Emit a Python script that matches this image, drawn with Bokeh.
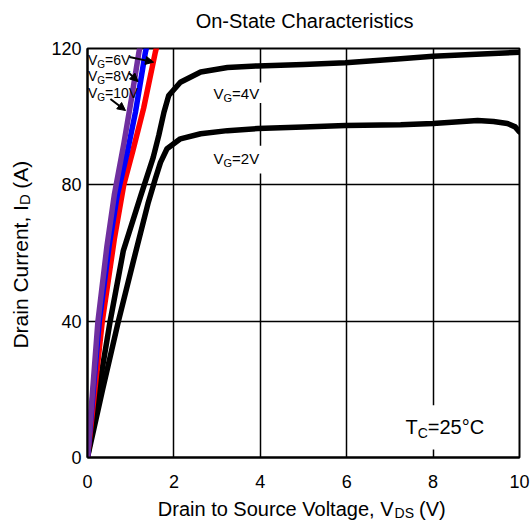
import math
from bokeh.plotting import figure
from bokeh.models import Range1d, FixedTicker, Label, Arrow, NormalHead
from bokeh.embed import file_html
from bokeh.resources import INLINE

# ---------------- data ----------------
vds_2v = [0, 0.35, 0.71, 1.05, 1.40, 1.57, 1.69, 1.84, 2.15, 2.62, 3.24, 3.94,
          5.0, 5.97, 7.25, 8.0, 8.6, 9.03, 9.4, 9.72, 9.9, 10.0]
id_2v = [0, 20, 39.7, 57, 74.5, 81.8, 86.6, 90.6, 93.5, 95.0, 95.9, 96.5,
         97.0, 97.4, 97.6, 98.0, 98.5, 98.9, 98.6, 98.0, 97.0, 95.5]

vds_4v = [0, 0.52, 0.83, 1.25, 1.52, 1.65, 1.77, 1.88, 2.15, 2.62, 3.24, 3.94,
          5.0, 5.97, 7.25, 8.0, 9.0, 10.0]
id_4v = [0, 39.7, 60.7, 77.5, 88.0, 94.5, 101.3, 106.2, 110.1, 113.1, 114.4, 114.9,
         115.3, 115.8, 117.0, 117.7, 118.3, 118.9]

vds_6v = [0, 0.34, 0.62, 0.84, 1.05, 1.30, 1.57, 1.63]
id_6v = [0, 39.7, 64.0, 80.0, 90.0, 102.5, 118.9, 122]

vds_8v = [0, 0.27, 0.50, 0.69, 0.92, 1.11, 1.34, 1.40]
id_8v = [0, 39.7, 62.0, 77.0, 89.5, 101.3, 118.9, 122]

vds_10v = [0, 0.24, 0.45, 0.62, 0.84, 1.03, 1.19, 1.24]
id_10v = [0, 39.7, 62.0, 77.0, 92.0, 106.2, 118.9, 122]

x_ticks = [0, 2, 4, 6, 8, 10]
y_ticks = [0, 40, 80, 120]
x_grid = [2, 4, 6, 8]
y_grid = [40, 80]

FONT = "Liberation Sans"
# Arial / Liberation Sans advance widths (per 1000 em)
W = {' ': 278, '\u00a0': 278, '\u2002': 500, '(': 333, ')': 333, ',': 278, '=': 584,
     '°': 400, '-': 333,
     '0': 556, '1': 556, '2': 556, '4': 556, '5': 556, '6': 556, '8': 556,
     'A': 667, 'C': 722, 'D': 722, 'G': 778, 'I': 278, 'S': 667, 'T': 611, 'V': 667,
     'a': 556, 'c': 500, 'e': 556, 'g': 556, 'i': 222, 'l': 222, 'n': 556,
     'o': 556, 'r': 333, 't': 278, 'u': 556}


def tw(s, size):
    return sum(W.get(c, 556) for c in s) / 1000.0 * size


BASE_FIX = 0.35  # rendered alphabetic baseline sits ~0.35em low; compensate

WID, H = 530, 521
p = figure(width=WID, height=H, x_range=Range1d(0, 10), y_range=Range1d(0, 120),
           output_backend="svg", toolbar_location=None,
           min_border_left=87, min_border_right=11, min_border_top=48, min_border_bottom=64)
p.background_fill_color = "white"
p.border_fill_color = "white"
p.outline_line_color = "black"
p.outline_line_width = 2

for ax in (p.xaxis, p.yaxis):
    ax.axis_line_color = "black"
    ax.axis_line_width = 2
    ax.major_tick_in = 0
    ax.major_tick_out = 0
    ax.minor_tick_in = 0
    ax.minor_tick_out = 0
    ax.major_label_text_font = FONT
    ax.major_label_text_font_size = "18px"
    ax.major_label_text_color = "black"
p.xaxis.ticker = FixedTicker(ticks=x_ticks)
p.yaxis.ticker = FixedTicker(ticks=y_ticks)
p.xaxis.major_label_standoff = 17
p.yaxis.major_label_standoff = 6

p.xgrid.ticker = FixedTicker(ticks=x_grid)
p.ygrid.ticker = FixedTicker(ticks=y_grid)
for g in (p.xgrid, p.ygrid):
    g.grid_line_color = "black"
    g.grid_line_width = 1.5
    g.grid_line_alpha = 1.0

# white backgrounds behind in-plot labels (they interrupt the grid lines)
p.quad(left=[2.85, 2.85, 7.3], right=[4.1, 4.1, 9.4],
       bottom=[104.0, 83.3, 2.35], top=[110.0, 91.5, 15.3],
       fill_color="white", line_color=None)

# curves
LW = 5.5
p.line(vds_2v, id_2v, line_width=LW, color="black", line_cap="round", line_join="round")
p.line(vds_4v, id_4v, line_width=LW, color="black", line_cap="round", line_join="round")
p.line(vds_6v, id_6v, line_width=LW, color="#FF0000", line_cap="round", line_join="round")
p.line(vds_8v, id_8v, line_width=LW, color="#0000FF", line_cap="round", line_join="round")
p.line(vds_10v, id_10v, line_width=LW, color="#702F9F", line_cap="round", line_join="round")


def rich_data(x, y, parts, size, sub_size, drop):
    off = 0.0
    for txt, sub in parts:
        fs = sub_size if sub else size
        p.add_layout(Label(x=x, y=y, x_offset=off,
                           y_offset=BASE_FIX * fs - (drop if sub else 0),
                           text=txt, text_font=FONT, text_font_size=f"{fs}px",
                           text_baseline="alphabetic", text_align="left",
                           text_color="black"))
        off += tw(txt, fs)


def canvas_label(x, y, txt, fs, side, angle=0.0):
    # canvas units (x from left, y from top); kept in a side panel so it is not clipped
    if angle == 0.0:
        y = y - BASE_FIX * fs
    else:
        x = x - BASE_FIX * fs
    p.add_layout(Label(x=x, y=y, x_units="canvas", y_units="canvas",
                       text=txt, text_font=FONT, text_font_size=f"{fs}px",
                       text_baseline="alphabetic", text_align="left",
                       angle=angle, text_color="black"), side)


# curve labels
rich_data(2.917, 105.3, [("V", False), ("G", True), ("=4V", False)], 15, 11, 3)
rich_data(2.917, 86.3, [("V", False), ("G", True), ("=2V", False)], 15, 11, 3)
rich_data(0.01, 115.3, [("V", False), ("G", True), ("=6V", False)], 14, 10, 3)
rich_data(0.01, 110.6, [("V", False), ("G", True), ("=8V", False)], 14, 10, 3)
rich_data(0.01, 105.6, [("V", False), ("G", True), ("=10V", False)], 14, 10, 3)
rich_data(7.36, 7.04, [("T", False), ("C", True), ("=25°C", False)], 20, 14, 4)

# arrows
for xs, ys, xe, ye in [(0.97, 117.5, 1.53, 116.0),
                       (0.96, 112.8, 1.17, 110.3),
                       (0.53, 105.2, 0.88, 101.8)]:
    p.add_layout(Arrow(end=NormalHead(size=8, fill_color="black", line_color="black"),
                       x_start=xs, y_start=ys, x_end=xe, y_end=ye,
                       line_width=2, line_color="black"))

# title
title_txt = "On-State Characteristics"
canvas_label(303 - tw(title_txt, 20) / 2, 27, title_txt, 20, "above")

# x axis title: main text with a gap for the subscript
x_main, x_sub, x_tail = "Drain to Source Voltage, V", "DS", "\u2002\u2002\u00a0(V)"
xw = tw(x_main, 20) + tw(x_sub, 14) + tw(" (V)", 20)
x0 = 301.5 - xw / 2
canvas_label(x0, 515, x_main + x_tail, 20, "below")
canvas_label(x0 + tw(x_main, 20), 517, x_sub, 14, "above")

# y axis title (rotated)
y_main, y_sub, y_tail = "Drain Current, I", "D", "\u2002\u00a0(A)"
yw = tw(y_main, 21) + tw(y_sub, 15) + tw(" (A)", 21)
y0 = 254 + yw / 2
canvas_label(27, y0, y_main + y_tail, 21, "left", angle=math.pi / 2)
canvas_label(29, y0 - tw(y_main, 21), y_sub, 15, "left", angle=math.pi / 2)

open("out.html", "w").write(file_html(p, INLINE))
